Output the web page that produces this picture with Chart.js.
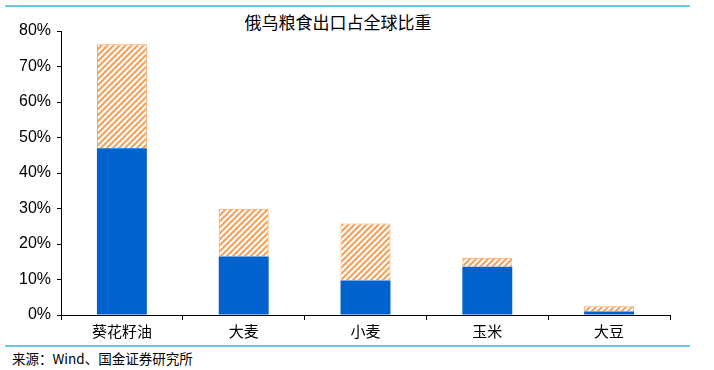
<!DOCTYPE html>
<html>
<head>
<meta charset="utf-8">
<script src="https://cdn.jsdelivr.net/npm/chart.js@4"></script>
<style>
  body { margin: 0; background: #fff; width: 714px; height: 370px; position: relative; overflow: hidden; }
  .line { position: absolute; left: 5px; width: 685px; height: 2px; background: #6cc7e6; }
  #title { position: absolute; top: 9px; left: 0; width: 676px; text-align: center; font: 17px "Noto Sans CJK SC"; color: #000; }
  #source { position: absolute; left: 12px; top: 348px; font: 13.5px "Noto Sans CJK SC"; color: #000; }
  #box { position: absolute; left: 0; top: 0; width: 714px; height: 342px; }
</style>
</head>
<body>
<div class="line" style="top:5px"></div>
<div id="title">俄乌粮食出口占全球比重</div>
<div id="box"><canvas id="chart"></canvas></div>
<div class="line" style="top:345px"></div>
<div id="source">来源：Wind、国金证券研究所</div>
<script>
const categories = ['葵花籽油', '大麦', '小麦', '玉米', '大豆'];
const russia = [47, 16.5, 9.7, 13.6, 1.0];
const ukraine = [29.3, 13.4, 16.1, 2.5, 1.5];
const yTicks = [0, 10, 20, 30, 40, 50, 60, 70, 80];

function stripes() {
    let c = document.createElement('canvas');
    c.width = 6; c.height = 6;
    let g = c.getContext('2d');
    g.fillStyle = '#f5a35e';
    g.fillRect(0, 0, 6, 6);
    g.strokeStyle = '#ffffff';
    g.lineWidth = 2;
    g.beginPath();
    g.moveTo(-1, 7); g.lineTo(7, -1);
    g.moveTo(-4, 4); g.lineTo(4, -4);
    g.moveTo(2, 10); g.lineTo(10, 2);
    g.stroke();
    return g.createPattern(c, 'repeat');
}

new Chart(document.getElementById('chart'), {
    type: 'bar',
    data: {
        labels: categories,
        datasets: [{
            label: '俄罗斯',
            data: russia,
            backgroundColor: '#0062cc',
            borderWidth: 0
        }, {
            label: '乌克兰',
            data: ukraine,
            backgroundColor: stripes(),
            borderColor: '#f5a35e',
            borderWidth: 1
        }]
    },
    options: {
        responsive: true,
        maintainAspectRatio: false,
        animation: false,
        layout: { padding: { top: 31, right: 44, left: 0, bottom: 0 } },
        datasets: { bar: { categoryPercentage: 1, barPercentage: 0.41 } },
        plugins: {
            legend: { display: false },
            tooltip: { enabled: false },
            title: { display: false }
        },
        scales: {
            x: {
                stacked: true,
                grid: { display: true, drawOnChartArea: false, color: '#000', tickLength: 5, offset: true },
                border: { color: '#000', width: 1 },
                ticks: { color: '#000', font: { family: 'Noto Sans CJK SC', size: 15 }, padding: 2, maxRotation: 0 }
            },
            y: {
                stacked: true,
                min: 0,
                max: 80,
                afterBuildTicks: (axis) => { axis.ticks = yTicks.map(v => ({ value: v })); },
                afterFit: (axis) => { axis.width = 61; },
                grid: { display: true, drawOnChartArea: false, color: '#000', tickLength: 4 },
                border: { color: '#000', width: 1 },
                ticks: {
                    color: '#000',
                    font: { family: 'Liberation Sans', size: 16 },
                    padding: 6,
                    callback: (v) => v + '%'
                }
            }
        }
    }
});
</script>
</body>
</html>
